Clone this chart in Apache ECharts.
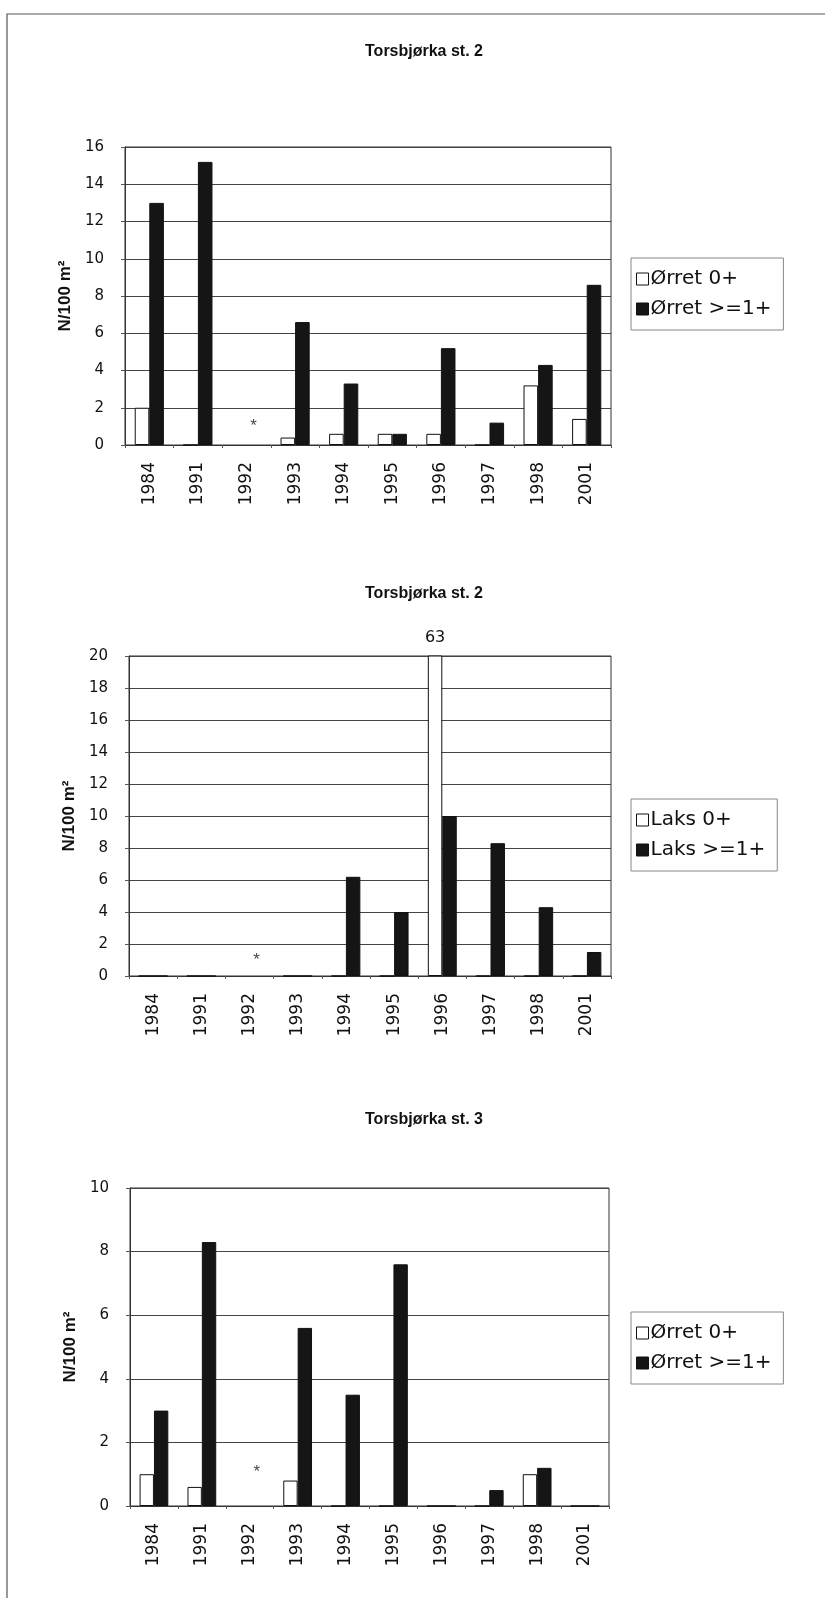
<!DOCTYPE html>
<html>
<head>
<meta charset="utf-8">
<style>
  html, body { margin: 0; padding: 0; background: #fff; }
  #chart { width: 825px; height: 1598px; }
</style>
<script src="https://cdn.jsdelivr.net/npm/echarts@6/dist/echarts.min.js"></script>
</head>
<body>
<div id="chart"></div>
<script>
// Sampling years (category axis)
const years = ['1984', '1991', '1992', '1993', '1994', '1995', '1996', '1997', '1998', '2001'];

// Densities, N per 100 m² (null = year not sampled)
const st2TroutYoy   = [2.0, 0, null, 0.4, 0.6, 0.6, 0.6, 0, 3.2, 1.4];
const st2TroutOlder = [13.0, 15.2, null, 6.6, 3.3, 0.6, 5.2, 1.2, 4.3, 8.6];
const st2SalmonYoy   = [0, 0, null, 0, 0, 0, 63, 0, 0, 0];
const st2SalmonOlder = [0, 0, null, 0, 6.2, 4.0, 10.0, 8.3, 4.3, 1.5];
const st3TroutYoy   = [1.0, 0.6, null, 0.8, 0, 0, 0, 0, 1.0, 0];
const st3TroutOlder = [3.0, 8.3, null, 5.6, 3.5, 7.6, 0, 0.5, 1.2, 0];

// Unsampled year marker
const unsampledYear = '1992';
const unsampledMarkLevel = 1.15;

// Value axis ranges
const axisMax = [16, 20, 10];
const axisStep = 2;

const titles = ['Torsbjørka st. 2', 'Torsbjørka st. 2', 'Torsbjørka st. 3'];
const seriesNames = [
  ['Ørret 0+', 'Ørret >=1+'],
  ['Laks 0+', 'Laks >=1+'],
  ['Ørret 0+', 'Ørret >=1+']
];
const seriesValues = [
  [st2TroutYoy, st2TroutOlder],
  [st2SalmonYoy, st2SalmonOlder],
  [st3TroutYoy, st3TroutOlder]
];

const FONT = '"Liberation Sans", Arial, sans-serif';
const WIDE = '"DejaVu Sans", sans-serif';
const grids = [
  { left: 125, top: 147, width: 486, height: 298 },
  { left: 129, top: 656, width: 482, height: 320 },
  { left: 130, top: 1188, width: 479, height: 318 }
];
const titleTops = [39, 581, 1107];
const legendTops = [258, 799, 1312];

const option = {
  animation: false,
  backgroundColor: '#fff',
  textStyle: { fontFamily: FONT },
  graphic: [{
    type: 'polyline',
    shape: { points: [[7, 1598], [7, 14], [825, 14]] },
    style: { stroke: '#555', lineWidth: 1.2, fill: null }
  }],
  title: titles.map((t, i) => ({
    text: t,
    left: 419,
    top: titleTops[i],
    textAlign: 'center',
    textStyle: { fontFamily: FONT, fontSize: 16, fontWeight: 'bold', color: '#111' }
  })),
  grid: grids.map(g => Object.assign({ show: true, borderColor: '#333', borderWidth: 1, backgroundColor: '#fff' }, g)),
  legend: seriesNames.map((names, i) => ({
    data: names,
    orient: 'vertical',
    left: 631,
    top: legendTops[i],
    padding: [11, 12, 11, 5],
    itemGap: 10,
    itemWidth: 12,
    itemHeight: 12,
    icon: 'rect',
    borderColor: '#888',
    borderWidth: 1,
    textStyle: { fontFamily: WIDE, fontSize: 20, color: '#111', padding: [0, 0, 0, -3] },
    itemStyle: { borderColor: '#111', borderWidth: 1 }
  })),
  xAxis: grids.map((g, i) => ({
    type: 'category',
    gridIndex: i,
    data: years,
    boundaryGap: true,
    axisLine: { lineStyle: { color: '#333', width: 1 } },
    axisTick: { show: true, length: 3, lineStyle: { color: '#555' } },
    axisLabel: { rotate: 90, margin: 17, fontSize: 17, color: '#111', fontFamily: WIDE }
  })),
  yAxis: grids.map((g, i) => ({
    type: 'value',
    gridIndex: i,
    min: 0,
    max: axisMax[i],
    interval: axisStep,
    name: 'N/100 m²',
    nameLocation: 'middle',
    nameGap: 46,
    nameTextStyle: { fontFamily: FONT, fontSize: 17, fontWeight: 'bold', color: '#111' },
    axisLine: { show: true, lineStyle: { color: '#333', width: 1 } },
    axisTick: { show: true, length: 4, lineStyle: { color: '#555' } },
    axisLabel: { margin: 21, fontSize: 15, color: '#111', fontFamily: WIDE },
    splitLine: { show: true, lineStyle: { color: '#444', width: 1 } }
  })),
  series: []
};

seriesValues.forEach((pair, i) => {
  option.series.push({
    name: seriesNames[i][0],
    type: 'bar',
    xAxisIndex: i,
    yAxisIndex: i,
    clip: true,
    barGap: '0%',
    barCategoryGap: '40%',
    itemStyle: { color: '#fff', borderColor: '#111', borderWidth: 1 },
    label: {
      show: true,
      position: 'top',
      distance: 10,
      fontSize: 16,
      color: '#111',
      fontFamily: WIDE,
      // only values beyond the axis range get a printed value
      formatter: p => (p.value != null && p.value > axisMax[i]) ? String(p.value) : ''
    },
    data: pair[0]
  });
  option.series.push({
    name: seriesNames[i][1],
    type: 'bar',
    xAxisIndex: i,
    yAxisIndex: i,
    clip: true,
    barGap: '0%',
    barCategoryGap: '40%',
    itemStyle: { color: '#151515', borderColor: '#111', borderWidth: 1 },
    data: pair[1]
  });
  option.series.push({
    type: 'scatter',
    xAxisIndex: i,
    yAxisIndex: i,
    symbol: 'circle',
    symbolSize: 1,
    itemStyle: { color: 'rgba(0,0,0,0)' },
    label: {
      show: true,
      position: 'inside',
      formatter: '*',
      fontSize: 17,
      color: '#111',
      fontFamily: FONT,
      offset: [7, 3]
    },
    data: [[unsampledYear, unsampledMarkLevel]]
  });
});

const chart = echarts.init(document.getElementById('chart'), null, { renderer: 'canvas' });
chart.setOption(option);
</script>
</body>
</html>
